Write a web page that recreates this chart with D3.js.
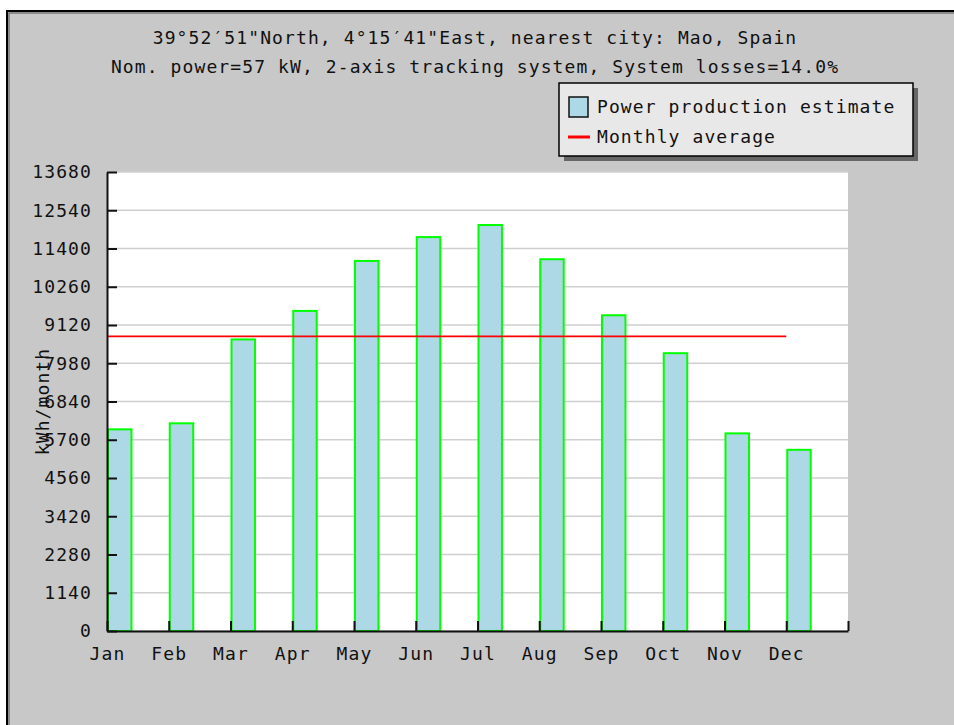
<!DOCTYPE html>
<html>
<head>
<meta charset="utf-8">
<script src="https://cdn.jsdelivr.net/npm/d3@7"></script>
<style>
  html, body { margin: 0; background: #fff; overflow: hidden; }
  svg { display: block; }
  svg text { font-family: "DejaVu Sans Mono", monospace; font-size: 18px; letter-spacing: 1.1px; fill: #111; }
</style>
</head>
<body>
<svg id="chart" width="954" height="725"></svg>
<script>
// monthly values (kWh/month)
let months = ["Jan","Feb","Mar","Apr","May","Jun","Jul","Aug","Sep","Oct","Nov","Dec"]
let production = [6010, 6190, 8690, 9540, 11030, 11740, 12100, 11080, 9410, 8280, 5890, 5400]
let yTicks = [0, 1140, 2280, 3420, 4560, 5700, 6840, 7980, 9120, 10260, 11400, 12540, 13680]
let titleLines = ["39°52′51\"North, 4°15′41\"East, nearest city: Mao, Spain",
                  "Nom. power=57 kW, 2-axis tracking system, System losses=14.0%"]
let legendItems = ["Power production estimate", "Monthly average"]

var svg = d3.select("#chart")
// plot box (don't call these top/left, window.top is taken)
var plotL = 107, plotR = 848, plotT = 172, plotB = 631

// outer frame: only the left and top edges are inside the window
svg.append("rect").attr("x", 7).attr("y", 11).attr("width", 947).attr("height", 714)
    .attr("fill", "#c8c8c8")
svg.append("path").attr("d", "M7,725V11H954")
    .attr("fill", "none").attr("stroke", "#000").attr("stroke-width", 2)
svg.append("path").attr("d", "M9,725V13H954")
    .attr("fill", "none").attr("stroke", "#777").attr("stroke-width", 1.5)

svg.selectAll("text.title").data(titleLines).enter().append("text")
    .attr("class", "title")
    .attr("x", 475).attr("y", function(d, i){ return 44 + i * 29 })
    .attr("text-anchor", "middle")
    .text(function(d){ return d })

var x = d3.scaleBand().domain(months).range([plotL, plotR])
var xt = d3.scaleLinear().domain([0, 12]).range([plotL, plotR])
var y = d3.scaleLinear().domain([0, 13680]).range([plotB, plotT])

svg.append("rect").attr("x", plotL).attr("y", plotT)
    .attr("width", plotR - plotL).attr("height", plotB - plotT).attr("fill", "#fff")

// grid
svg.selectAll("line.grid").data(yTicks).enter().append("line")
    .attr("class", "grid")
    .attr("x1", plotL).attr("x2", plotR)
    .attr("y1", function(d){ return y(d) }).attr("y2", function(d){ return y(d) })
    .attr("stroke", "#cfcfcf").attr("stroke-width", 1.6)

// bars
svg.selectAll("rect.bar").data(production).enter().append("rect")
    .attr("class", "bar")
    .attr("x", function(d, i){ return x(months[i]) + 1 })
    .attr("y", function(d){ return y(d) })
    .attr("width", x.bandwidth() * 0.38)
    .attr("height", function(d){ return y(0) - y(d) })
    .attr("fill", "#add8e6").attr("stroke", "#00ff00").attr("stroke-width", 2)

// monthly average line, Jan tick to Dec tick
var avg = d3.mean(production)
svg.append("line")
    .attr("x1", xt(0)).attr("x2", xt(11))
    .attr("y1", y(avg)).attr("y2", y(avg))
    .attr("stroke", "#ff0000").attr("stroke-width", 1.6)

// axes
svg.append("g").attr("transform", "translate(" + plotL + ",0)")
    .call(d3.axisLeft(y).tickValues(yTicks).tickSize(-10).tickSizeOuter(0).tickPadding(15).tickFormat(d3.format("d")))
svg.append("g").attr("transform", "translate(0," + plotB + ")")
    .call(d3.axisBottom(xt).tickValues(d3.range(13)).tickSize(-10).tickSizeOuter(0).tickPadding(16)
        .tickFormat(function(i){ return months[i] || "" }))
svg.selectAll(".domain").attr("stroke", "#111").attr("stroke-width", 2)
svg.selectAll(".tick line").attr("stroke", "#111").attr("stroke-width", 2)
svg.selectAll(".tick text").style("font-family", "DejaVu Sans Mono, monospace").style("font-size", "18px")

svg.append("text")
    .attr("transform", "translate(49," + ((plotT + plotB) / 2) + ") rotate(-90)")
    .attr("text-anchor", "middle")
    .text("kWh/month")

// legend
var lg = svg.append("g").attr("transform", "translate(559,83)")
lg.append("rect").attr("x", 5).attr("y", 5).attr("width", 354).attr("height", 73).attr("fill", "#666")
lg.append("rect").attr("width", 354).attr("height", 73)
    .attr("fill", "#e8e8e8").attr("stroke", "#000").attr("stroke-width", 1.5)
lg.append("rect").attr("x", 10).attr("y", 14).attr("width", 19).attr("height", 20)
    .attr("fill", "#add8e6").attr("stroke", "#111").attr("stroke-width", 1.5)
lg.append("line").attr("x1", 9).attr("x2", 31).attr("y1", 54).attr("y2", 54)
    .attr("stroke", "#ff0000").attr("stroke-width", 3)
lg.selectAll("text").data(legendItems).enter().append("text")
    .attr("x", 38).attr("y", function(d, i){ return 30 + i * 30 })
    .text(function(d){ return d })
</script>
</body>
</html>
